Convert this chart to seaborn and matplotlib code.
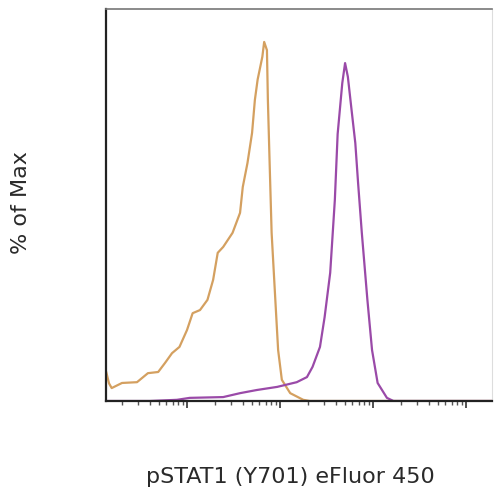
import numpy as np
import pandas as pd
import matplotlib
matplotlib.use("Agg")
import matplotlib.pyplot as plt
import seaborn as sns

# fluorescence intensity (log axis) and % of max
unstim_x = [13.5, 14.5, 15.5, 20, 29, 38, 49, 58, 69, 83, 100, 115, 138, 166,
            191, 214, 245, 309, 372, 398, 447, 501, 537, 575, 646, 676, 724,
            741, 776, 813, 891, 955, 1047, 1288, 1778, 2089, 5000, 250000]
unstim_y = [7.5, 4.5, 3.3, 4.6, 4.8, 7.1, 7.4, 9.7, 12.2, 13.8, 18.1, 22.4,
            23.2, 25.8, 30.9, 37.8, 39.3, 42.9, 48.0, 54.6, 60.7, 68.4, 76.8,
            82.0, 87.8, 91.6, 89.5, 76.8, 59.7, 42.9, 25.8, 13.0, 5.4, 2.0,
            0.3, 0.0, 0.0, 0.0]

stim_x = [13.5, 40, 78, 107, 245, 372, 562, 933, 1514, 1950, 2239, 2692, 3020,
          3467, 3890, 4169, 4677, 5012, 5370, 5888, 6457, 6918, 7586, 8710,
          9772, 11220, 14125, 16596, 250000]
stim_y = [0.0, 0.0, 0.3, 0.8, 1.0, 2.0, 2.8, 3.6, 4.8, 6.1, 8.7, 13.8, 21.4,
          32.7, 51.3, 68.1, 81.1, 86.2, 82.7, 74.2, 65.8, 55.6, 42.9, 25.8,
          13.0, 4.6, 0.8, 0.0, 0.0]

df = pd.concat([
    pd.DataFrame({"x": unstim_x, "y": unstim_y, "sample": "Unstimulated"}),
    pd.DataFrame({"x": stim_x, "y": stim_y, "sample": "Stimulated"}),
])

sns.set_style("white")
plt.rcParams['font.family'] = ['DejaVu Sans']

fig = plt.figure(figsize=(4.96, 4.94), dpi=100)
ax = fig.add_axes([106 / 496, 1 - 401 / 494, 386 / 496, 392 / 494])

sns.lineplot(data=df, x="x", y="y", hue="sample", estimator=None, sort=False,
             palette={"Unstimulated": "#d4a060", "Stimulated": "#9a4aa8"},
             linewidth=1.6, legend=False, ax=ax)

ax.set_xscale("log")
ax.set_xlim(10 ** 1.129, 10 ** 5.28)
ax.set_ylim(0, 100)
ax.set_yticks([])
ax.tick_params(axis="x", which="major", direction="out", length=5, width=1.2,
               color="#333333", labelbottom=False, bottom=True)
ax.tick_params(axis="x", which="minor", direction="out", length=3, width=1,
               color="#555555", bottom=True)
ax.set_xlabel("")
ax.set_ylabel("")

for side in ["left", "bottom"]:
    ax.spines[side].set_color("#222222")
    ax.spines[side].set_linewidth(1.6)
ax.spines["top"].set_color("#777777")
ax.spines["top"].set_linewidth(1.2)
ax.spines["right"].set_color("#dddddd")
ax.spines["right"].set_linewidth(0.8)

fig.text(290 / 496, 1 - 477 / 494, "pSTAT1 (Y701) eFluor 450", ha="center",
         va="center", fontsize=16, color="#2a2a2a")
fig.text(21 / 496, 1 - 203 / 494, "% of Max", ha="center", va="center",
         rotation=90, fontsize=16, color="#2a2a2a")

fig.savefig("out.png", dpi=100, facecolor="white")
